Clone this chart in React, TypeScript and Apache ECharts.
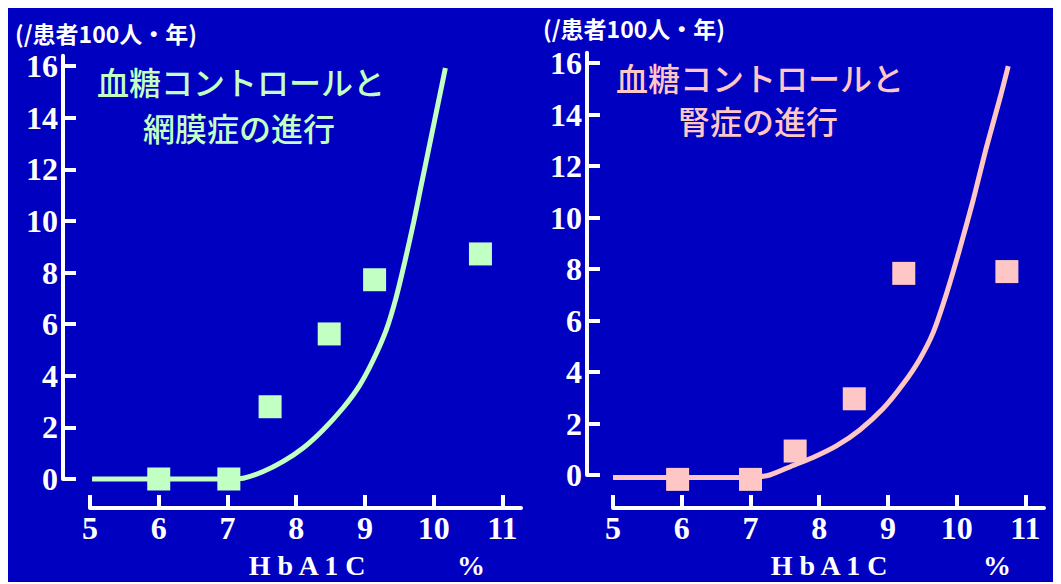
import React, { useEffect, useRef } from "react";
import * as echarts from "echarts";

const X_TICKS = [5, 6, 7, 8, 9, 10, 11];
const Y_TICKS = [0, 2, 4, 6, 8, 10, 12, 14, 16];

const LEFT_TITLE = ["血糖コントロールと", "網膜症の進行"];
const RIGHT_TITLE = ["血糖コントロールと", "腎症の進行"];
const UNIT_LABEL = "(/患者100人・年)";
const X_NAME = "H b A 1 C";
const X_UNIT = "%";

const LEFT_POINTS = [
  [6.0, 0],
  [7.02, 0],
  [7.62, 2.8],
  [8.48, 5.62],
  [9.14, 7.72],
  [10.68, 8.72],
];
const LEFT_CURVE = [
  [5.03, 0], [7.0, 0], [7.23, 0.03], [7.52, 0.29], [7.81, 0.68], [8.1, 1.2],
  [8.39, 1.9], [8.68, 2.75], [8.92, 3.62], [9.12, 4.61], [9.31, 5.78],
  [9.45, 7.0], [9.58, 8.42], [9.71, 9.97], [9.81, 11.27], [9.94, 12.95],
  [10.06, 14.5], [10.17, 15.92],
];

const RIGHT_POINTS = [
  [5.94, -0.17],
  [7.0, -0.17],
  [7.65, 0.93],
  [8.51, 2.96],
  [9.23, 7.83],
  [10.73, 7.9],
];
const RIGHT_CURVE = [
  [5.0, -0.1], [7.0, -0.1], [7.28, 0.0], [7.62, 0.37], [7.91, 0.68], [8.25, 1.13],
  [8.59, 1.75], [8.93, 2.58], [9.22, 3.53], [9.46, 4.49], [9.66, 5.55],
  [9.85, 7.03], [10.04, 8.74], [10.24, 10.68], [10.43, 12.7], [10.63, 14.64],
  [10.75, 15.88],
];

const BG = "#0000C0";
const GREEN = "#C2FFC2";
const PINK = "#FFC6C6";
const WHITE = "#FFFFFF";
const SERIF = "'Liberation Serif', 'DejaVu Serif', serif";
const CJK = "'Noto Sans CJK JP', 'Noto Sans', sans-serif";

function makeX(gridIndex: number, offset: number) {
  return {
    gridIndex,
    type: "value",
    min: 5,
    max: 11.27,
    offset,
    position: "bottom",
    axisLine: { show: true, onZero: false, lineStyle: { color: WHITE, width: 4 } },
    axisTick: {
      show: true,
      inside: true,
      length: 13,
      customValues: X_TICKS,
      lineStyle: { color: WHITE, width: 4 },
    },
    axisLabel: {
      customValues: X_TICKS,
      color: WHITE,
      fontFamily: SERIF,
      fontWeight: "bold",
      fontSize: 32,
      margin: 4,
    },
    splitLine: { show: false },
  };
}

function makeY(gridIndex: number, offset: number) {
  return {
    gridIndex,
    type: "value",
    min: 0,
    max: 16.4,
    offset,
    position: "left",
    axisLine: { show: true, onZero: false, lineStyle: { color: WHITE, width: 4 } },
    axisTick: {
      show: true,
      inside: true,
      length: 13,
      customValues: Y_TICKS,
      lineStyle: { color: WHITE, width: 4 },
    },
    axisLabel: {
      customValues: Y_TICKS,
      color: WHITE,
      fontFamily: SERIF,
      fontWeight: "bold",
      fontSize: 32,
      margin: 5,
    },
    splitLine: { show: false },
  };
}

function titleText(text: string, x: number, y: number, color: string) {
  return {
    type: "text",
    x,
    y,
    style: {
      text,
      fill: color,
      font: `500 32px ${CJK}`,
      align: "center",
      verticalAlign: "middle",
    },
  };
}

function plainText(text: string, x: number, y: number, font: string, align: string) {
  return {
    type: "text",
    x,
    y,
    style: { text, fill: WHITE, font, align, verticalAlign: "middle" },
  };
}

function curveSeries(axisIndex: number, data: number[][], color: string) {
  return {
    type: "line",
    xAxisIndex: axisIndex,
    yAxisIndex: axisIndex,
    data,
    smooth: 0.2,
    symbol: "none",
    clip: false,
    lineStyle: { color, width: 5 },
    z: 2,
  };
}

function pointSeries(axisIndex: number, data: number[][], color: string) {
  return {
    type: "scatter",
    xAxisIndex: axisIndex,
    yAxisIndex: axisIndex,
    data,
    symbol: "rect",
    symbolSize: 23,
    clip: false,
    itemStyle: { color, opacity: 1 },
    z: 3,
  };
}

export default function App() {
  const ref = useRef<HTMLDivElement>(null);

  useEffect(() => {
    if (!ref.current) return;
    const chart = echarts.init(ref.current, null, { renderer: "svg" });
    const option = {
      animation: false,
      backgroundColor: BG,
      grid: [
        { left: 82, top: 47.7, width: 431, height: 423.3 },
        { left: 605, top: 44.7, width: 431, height: 422.3 },
      ],
      xAxis: [makeX(0, 29), makeX(1, 33)],
      yAxis: [makeY(0, 27), makeY(1, 26)],
      series: [
        curveSeries(0, LEFT_CURVE, GREEN),
        pointSeries(0, LEFT_POINTS, GREEN),
        curveSeries(1, RIGHT_CURVE, PINK),
        pointSeries(1, RIGHT_POINTS, PINK),
      ],
      graphic: [
        plainText(UNIT_LABEL, 7, 25, `bold 23px ${CJK}`, "left"),
        plainText(UNIT_LABEL, 535, 20, `bold 23px ${CJK}`, "left"),
        titleText(LEFT_TITLE[0], 233, 73, GREEN),
        titleText(LEFT_TITLE[1], 231, 119, GREEN),
        titleText(RIGHT_TITLE[0], 752, 69, PINK),
        titleText(RIGHT_TITLE[1], 750, 112, PINK),
        plainText(X_NAME, 299, 557, `bold 28px ${SERIF}`, "center"),
        plainText(X_UNIT, 463, 557, `bold 28px ${SERIF}`, "center"),
        plainText(X_NAME, 821, 557, `bold 28px ${SERIF}`, "center"),
        plainText(X_UNIT, 989, 557, `bold 28px ${SERIF}`, "center"),
      ],
    };
    chart.setOption(option as any);
    return () => chart.dispose();
  }, []);

  return <div ref={ref} style={{ width: 1053, height: 574 }} />;
}
